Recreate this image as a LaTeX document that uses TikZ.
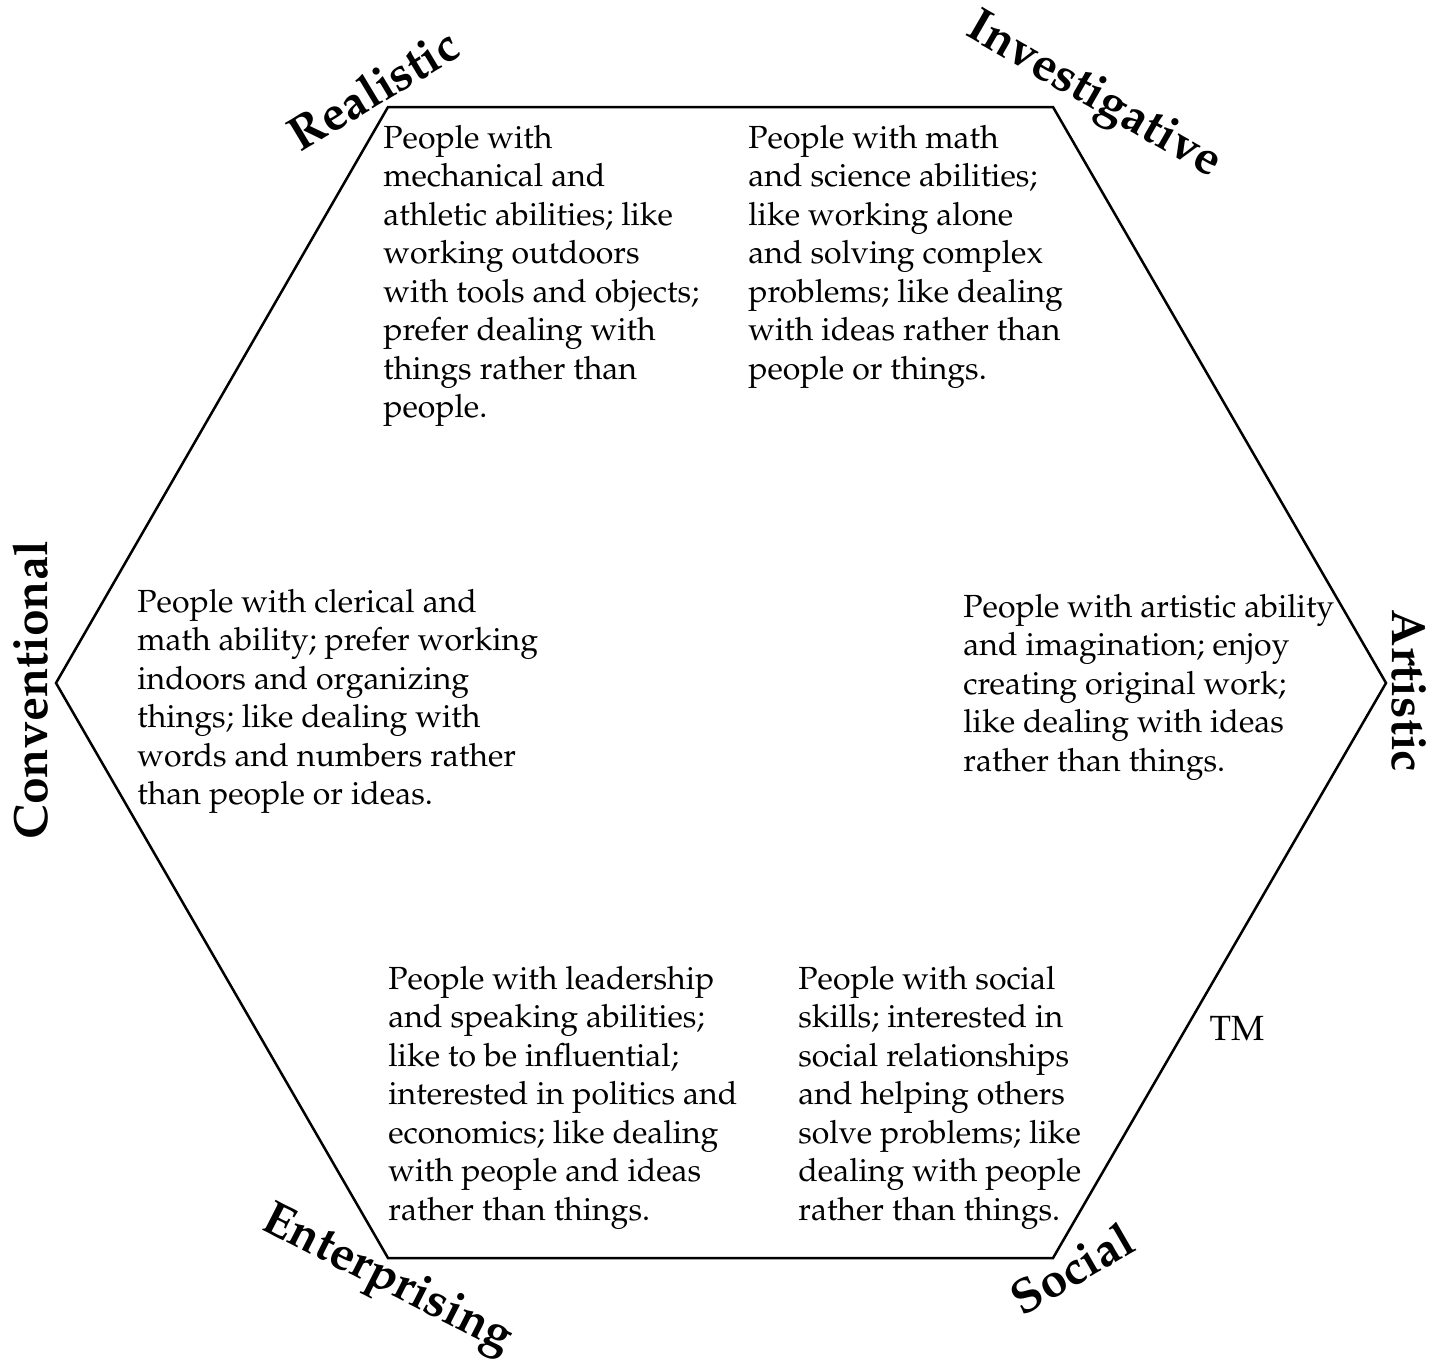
\documentclass[tikz,border=0pt]{standalone}
\usepackage[T1]{fontenc}
\usepackage{mathpazo}
\begin{document}
\begin{tikzpicture}[x=0.5pt,y=-0.5pt,
  hexline/.style={line width=1.25pt, line join=miter},
  desc/.style={anchor=base west, inner sep=0pt, font=\fontsize{16}{19.25}\selectfont},
  lbl/.style={inner sep=0pt, font=\fontsize{24}{28}\selectfont\bfseries}]
\useasboundingbox (0,0) rectangle (1444,1362);
\coordinate (v1) at (388,107);
\coordinate (v2) at (1053,107);
\coordinate (v3) at (1386,683);
\coordinate (v4) at (1053,1258);
\coordinate (v5) at (388,1258);
\coordinate (v6) at (56,683);
\draw[hexline] (v1) -- (v2) -- (v3) -- (v4) -- (v5) -- (v6) -- cycle;

\node[desc] (tr) at (383,148) {\begin{tabular}[t]{@{}l@{}}People with\\mechanical and\\athletic abilities; like\\working outdoors\\with tools and objects;\\prefer dealing with\\things rather than\\people.\end{tabular}};
\node[desc] (ti) at (748,148) {\begin{tabular}[t]{@{}l@{}}People with math\\and science abilities;\\like working alone\\and solving complex\\problems; like dealing\\with ideas rather than\\people or things.\end{tabular}};
\node[desc] (tc) at (137,612) {\begin{tabular}[t]{@{}l@{}}People with clerical and\\math ability; prefer working\\indoors and organizing\\things; like dealing with\\words and numbers rather\\than people or ideas.\end{tabular}};
\node[desc] (ta) at (963,617) {\begin{tabular}[t]{@{}l@{}}People with artistic ability\\and imagination; enjoy\\creating original work;\\like dealing with ideas\\rather than things.\end{tabular}};
\node[desc] (te) at (388,989) {\begin{tabular}[t]{@{}l@{}}People with leadership\\and speaking abilities;\\like to be influential;\\interested in politics and\\economics; like dealing\\with people and ideas\\rather than things.\end{tabular}};
\node[desc] (ts) at (798,989) {\begin{tabular}[t]{@{}l@{}}People with social\\skills; interested in\\social relationships\\and helping others\\solve problems; like\\dealing with people\\rather than things.\end{tabular}};
\node[inner sep=0pt, font=\fontsize{17.5}{20}\selectfont] (tm) at (1237,1028) {TM};

\node[lbl, rotate=31] (lr) at (373,89) {Realistic};
\node[lbl, rotate=-30] (li) at (1093,97) {Investigative};
\node[lbl, rotate=-90] (la) at (1409,691) {Artistic};
\node[lbl, rotate=90] (lc) at (30,690) {Conventional};
\node[lbl, rotate=-27] (le) at (387,1281) {Enterprising};
\node[lbl, rotate=30] (ls) at (1072,1268) {Social};
\end{tikzpicture}
\end{document}
